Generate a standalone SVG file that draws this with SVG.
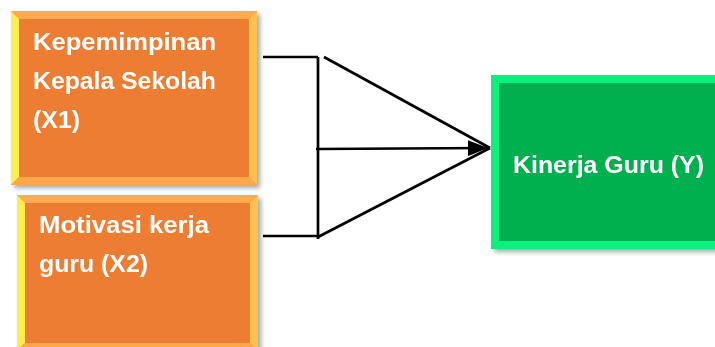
<svg xmlns="http://www.w3.org/2000/svg" width="715" height="347" viewBox="0 0 715 347">
<defs>
<filter id="sh" x="-10%" y="-10%" width="130%" height="130%">
<feGaussianBlur in="SourceAlpha" stdDeviation="2.5"/>
<feOffset dx="3" dy="3" result="b"/>
<feComponentTransfer><feFuncA type="linear" slope="0.35"/></feComponentTransfer>
<feMerge><feMergeNode/><feMergeNode in="SourceGraphic"/></feMerge>
</filter>
<marker id="arr" viewBox="0 0 20 16" refX="20" refY="8" markerWidth="20" markerHeight="16" markerUnits="userSpaceOnUse" orient="auto">
<path d="M0,0 L20,8 L0,16 z" fill="#000"/>
</marker>
</defs>
<style>
.o{fill:#ED7D31}
.ot{fill:#FFAA50}
.ol{fill:#FFEE50}
.or{fill:#FFC24E}
.ob{fill:#FFA84A}
.g{fill:#00B050}
.gb{fill:#10F080}
.t{font-family:"Liberation Sans",Arial,sans-serif;font-weight:bold;font-size:24px;fill:#FFFFFF}
.c{stroke:#000;stroke-width:2.7;fill:none}
</style>
<rect width="715" height="347" fill="#FFFFFF"/>
<g id="x1" filter="url(#sh)">
<rect class="o" x="11" y="11" width="246" height="174"/>
<polygon class="ot" points="11,11 257,11 249,19 19,19"/>
<polygon class="ol" points="11,11 19,19 19,177 11,185"/>
<polygon class="or" points="257,11 257,185 249,177 249,19"/>
<polygon class="ob" points="11,185 257,185 249,177 19,177"/>
<text class="t" x="33" y="50" textLength="183" lengthAdjust="spacingAndGlyphs">Kepemimpinan</text>
<text class="t" x="33" y="89" textLength="183" lengthAdjust="spacingAndGlyphs">Kepala Sekolah</text>
<text class="t" x="33" y="128" textLength="47" lengthAdjust="spacingAndGlyphs">(X1)</text>
</g>
<g id="x2" filter="url(#sh)">
<rect class="o" x="17" y="195" width="241" height="156"/>
<polygon class="ot" points="17,195 258,195 250,203 25,203"/>
<polygon class="ol" points="17,195 25,203 25,343 17,351"/>
<polygon class="or" points="258,195 258,351 250,343 250,203"/>
<polygon class="ob" points="17,351 258,351 250,343 25,343"/>
<text class="t" x="39" y="233" textLength="170" lengthAdjust="spacingAndGlyphs">Motivasi kerja</text>
<text class="t" x="39" y="272" textLength="109" lengthAdjust="spacingAndGlyphs">guru (X2)</text>
</g>
<g id="y" filter="url(#sh)">
<rect class="g" x="491" y="75" width="232" height="174"/>
<polygon class="gb" points="491,75 723,75 715,83 499,83"/>
<polygon class="gb" points="491,75 499,83 499,241 491,249"/>
<polygon class="gb" points="491,249 723,249 715,241 499,241"/>
<text class="t" x="513" y="173" textLength="191" lengthAdjust="spacingAndGlyphs">Kinerja Guru (Y)</text>
</g>
<g id="connectors">
<line class="c" x1="263" y1="57" x2="318" y2="57"/>
<line class="c" x1="318" y1="57" x2="318" y2="239"/>
<line class="c" x1="263" y1="236" x2="318" y2="236"/>
<line class="c" x1="324" y1="57" x2="490" y2="148"/>
<line class="c" x1="316" y1="149" x2="488" y2="148" marker-end="url(#arr)"/>
<line class="c" x1="318" y1="237" x2="490" y2="148"/>
</g>
</svg>
